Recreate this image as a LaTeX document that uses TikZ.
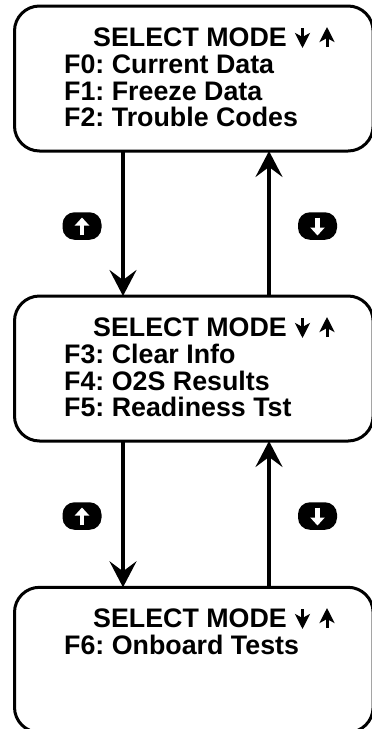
\documentclass[tikz,border=0pt]{standalone}
\usepackage{fontspec}
\setmainfont{Liberation Sans}
\frenchspacing
\usetikzlibrary{arrows.meta}
\tikzset{
  modebox/.style={draw, line width=3pt, rounded corners=25pt, minimum width=358.6pt, minimum height=145pt, inner sep=0pt, outer sep=0pt},
  modetext/.style={font=\fontsize{26.8pt}{27pt}\selectfont\bfseries, inner sep=0pt, anchor=base west},
  flowline/.style={line width=3.2pt, -{Stealth[length=26pt,width=27pt,inset=10pt]}},
  smallarrow/.style={line width=3pt, -{Stealth[length=15pt,width=15pt,inset=4pt]}},
  keybtn/.style={fill, rounded corners=12pt, minimum width=39pt, minimum height=27.5pt, inner sep=0pt},
  keyarrow/.style={white, line width=4.6pt, -{Triangle[length=8pt,width=14pt]}}
}
\begin{document}
\begin{tikzpicture}[x=1pt,y=-1pt]
\useasboundingbox (0,0) rectangle (372,729);
\node[modebox] (boxA) at (193.8,78.5){};
\node[modebox] (boxB) at (193.8,368.5){};
\node[modebox] (boxC) at (193.8,659.8){};
\coordinate (colL) at (123,0);
\coordinate (colR) at (269,0);
% texts
\node[modetext] (titleA) at (93,46){SELECT MODE};
\node[modetext] (fzero) at (64,73){F0: Current Data};
\node[modetext] (fone) at (64,100){F1: Freeze Data};
\node[modetext] (ftwo) at (64,126.5){F2: Trouble Codes};
\node[modetext] (titleB) at (93,336){SELECT MODE};
\node[modetext] (fthree) at (64,363){F3: Clear Info};
\node[modetext] (ffour) at (64,390){F4: O2S Results};
\node[modetext] (ffive) at (64,416.5){F5: Readiness Tst};
\node[modetext] (titleC) at (93,627){SELECT MODE};
\node[modetext] (fsix) at (64,654){F6: Onboard Tests};
% small arrows
\foreach \t/\y in {A/46,B/336,C/627}{
  \coordinate (dn\t top) at (302.5,\y-18);
  \coordinate (dn\t bot) at (302.5,\y+2);
  \coordinate (up\t top) at (327,\y-19);
  \coordinate (up\t bot) at (327,\y+1);
  \draw[smallarrow] (dn\t top) -- (dn\t bot);
  \draw[smallarrow] (up\t bot) -- (up\t top);
}
% connectors
\draw[flowline] (colL |- boxA.south) -- (colL |- boxB.north);
\draw[flowline] (colR |- boxB.north) -- (colR |- boxA.south);
\draw[flowline] (colL |- boxB.south) -- (colL |- boxC.north);
\draw[flowline] (colR |- boxC.north) -- (colR |- boxB.south);
% keys
\node[keybtn] (keyupA) at (82,226){};
\node[keybtn] (keydnA) at (317.5,226){};
\node[keybtn] (keyupB) at (82,516){};
\node[keybtn] (keydnB) at (317.5,516){};
\foreach \k in {keyupA,keyupB}{
  \draw[keyarrow] ([yshift=-9pt]\k.center) -- ([yshift=8.5pt]\k.center);
}
\foreach \k in {keydnA,keydnB}{
  \draw[keyarrow] ([yshift=8.5pt]\k.center) -- ([yshift=-9.5pt]\k.center);
}
\end{tikzpicture}
\end{document}
